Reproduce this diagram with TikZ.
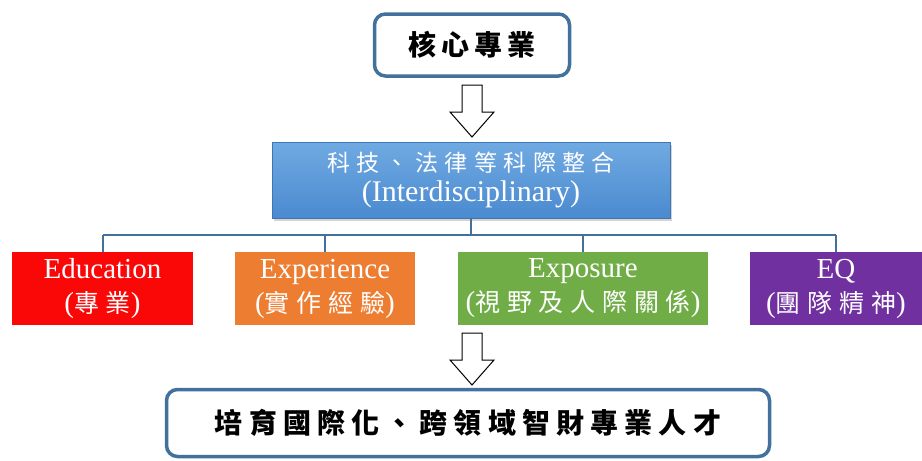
\documentclass[tikz,border=0pt]{standalone}
\usepackage{fontspec}
\setmainfont{Liberation Serif}
\newfontfamily\cjk{Noto Sans CJK TC}
\usetikzlibrary{shadows,positioning}

\definecolor{frameblue}{RGB}{65,113,156}
\definecolor{hubtop}{RGB}{112,170,226}
\definecolor{hubbot}{RGB}{74,138,208}
\definecolor{eduRed}{RGB}{250,8,8}
\definecolor{expOrange}{RGB}{237,125,49}
\definecolor{expoGreen}{RGB}{112,173,71}
\definecolor{eqPurple}{RGB}{112,48,160}

\tikzset{
    goalbox/.style={draw=frameblue, line width=3.5pt, rounded corners=11pt, fill=white,
        inner sep=0pt, font=\cjk\bfseries\fontsize{28}{30}\selectfont},
    hubbox/.style={top color=hubtop, bottom color=hubbot, draw=hubbot!85!black, line width=0.6pt,
        minimum width=398pt, minimum height=76pt, inner sep=0pt, align=center, text=white,
        drop shadow={shadow xshift=2pt, shadow yshift=-3pt, opacity=0.35},
        font=\fontsize{30}{30}\selectfont},
    ebox/.style={minimum height=73pt, inner sep=0pt, align=center, text=white,
        font=\fontsize{29}{34}\selectfont},
    hollow/.style={draw=black, fill=white, line width=1pt, line join=miter},
    link/.style={draw=frameblue, line width=2pt}
}

\begin{document}
\begin{tikzpicture}[x=1pt, y=-1pt]
    \useasboundingbox (0,0) rectangle (922,461);

    % Main boxes
    \node[goalbox, minimum width=195pt, minimum height=62pt] (core) at (472,45)
        {\addfontfeature{LetterSpace=18}核心專業\hspace{-5pt}};
    \node[hubbox] (hub) at (471,180)
        {{\cjk\addfontfeature{LetterSpace=28}\fontsize{23}{30}\selectfont 科技、法律等科際整合\hspace{-6pt}}\\(Interdisciplinary)};
    \node[goalbox, minimum width=603pt, minimum height=67pt] (talent) at (468,423)
        {\addfontfeature{LetterSpace=22}培育國際化、跨領域智財專業人才\hspace{-6pt}};

    % Arrows
    \coordinate (arrA) at (472,85);
    \coordinate (arrB) at (472,333);
    \foreach \a in {arrA, arrB}
        \draw[hollow] (\a) ++(-10,0) -- ++(20,0) -- ++(0,27) -- ++(12,0)
            -- ++(-22,25) -- ++(-22,-25) -- ++(12,0) -- cycle;

    % Four E's
    \foreach \n/\x/\w/\c/\en/\zh in {edu/102.5/181/eduRed/Education/專業,
                                   exp/325/180/expOrange/Experience/實作經驗,
                                   expo/583/250/expoGreen/Exposure/視野及人際關係,
                                   eq/836/172/eqPurple/EQ/團隊精神}
        \node[ebox, fill=\c, minimum width=\w pt] (\n) at (\x,288.5)
            {\en\\({\cjk\addfontfeature{LetterSpace=27}\fontsize{25}{34}\selectfont \zh})};

    % Edges
    \coordinate (busL) at (102.5,235);
    \coordinate (busR) at (836,235);
    \draw[link] (hub.south) -- (hub.south |- busL);
    \draw[link] (busL) -- (busR);
    \foreach \n in {edu, exp, expo, eq}
        \draw[link] (busL -| \n.north) -- (\n.north);
\end{tikzpicture}
\end{document}
